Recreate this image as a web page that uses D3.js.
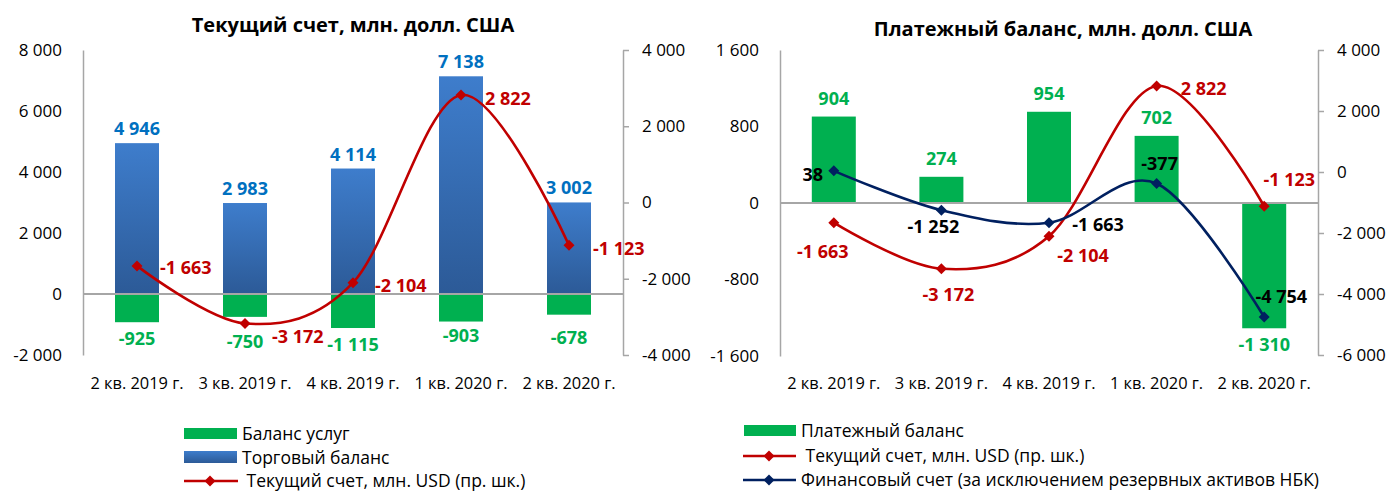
<!DOCTYPE html>
<html><head><meta charset="utf-8">
<script src="https://cdn.jsdelivr.net/npm/d3@7"></script>
<style>
body{margin:0;background:#fff;}
svg{display:block;font-family:"Open Sans",sans-serif;}
</style></head>
<body>
<svg id="chart" width="1394" height="492"></svg>
<script>
// ---------- data ----------
const quarters = ["2 кв. 2019 г.", "3 кв. 2019 г.", "4 кв. 2019 г.", "1 кв. 2020 г.", "2 кв. 2020 г."];
const tradeBalance = [4946, 2983, 4114, 7138, 3002];
const servicesBalance = [-925, -750, -1115, -903, -678];
const currentAccount = [-1663, -3172, -2104, 2822, -1123];
const balanceOfPayments = [904, 274, 954, 702, -1310];
const financialAccount = [38, -1252, -1663, -377, -4754];

const leftTicksA = [-2000, 0, 2000, 4000, 6000, 8000];
const rightTicksA = [-4000, -2000, 0, 2000, 4000];
const leftTicksB = [-1600, -800, 0, 800, 1600];
const rightTicksB = [-6000, -4000, -2000, 0, 2000, 4000];

const titleA = "Текущий счет, млн. долл. США";
const titleB = "Платежный баланс, млн. долл. США";
const legendA = ["Баланс услуг", "Торговый баланс", " Текущий счет, млн. USD (пр. шк.)"];
const legendB = ["Платежный баланс", " Текущий счет, млн. USD (пр. шк.)", "Финансовый счет (за исключением резервных активов НБК)"];

// ---------- style ----------
const C = {green:"#00B050", red:"#C00000", navy:"#002060", blue:"#0070C0", axis:"#A6A6A6", text:"#000"};
const loc = d3.formatLocale({decimal:",", thousands:" ", grouping:[3], currency:["",""], minus:"-"});
const fmt = loc.format(",");
const FS = {title:20, tick:17, cat:16.4, label:18, legend:17.5};

const svg = d3.select("#chart");
const defs = svg.append("defs");
const grad = defs.append("linearGradient").attr("id","tradeGrad").attr("x1",0).attr("y1",0).attr("x2",0).attr("y2",1);
grad.append("stop").attr("offset","0%").attr("stop-color","#3E7DCC");
grad.append("stop").attr("offset","100%").attr("stop-color","#2C5A97");

const diamond = "M0,-5.5L5.5,0L0,5.5L-5.5,0Z";
const curve = d3.curveCatmullRom.alpha(0);

function axes(g, x, yL, yR, ticksL, ticksR) {
  const [x0, x1] = x.range();
  const la = g.append("g").attr("transform", `translate(${x0},0)`)
    .call(d3.axisLeft(yL).tickValues(ticksL).tickFormat(fmt).tickSize(0).tickPadding(21));
  la.select(".domain").attr("stroke", C.axis).attr("stroke-width", 1.5);
  la.selectAll("text").attr("font-size", FS.tick).attr("fill", C.text).attr("font-family","Open Sans");
  const ra = g.append("g").attr("transform", `translate(${x1},0)`)
    .call(d3.axisRight(yR).tickValues(ticksR).tickFormat(fmt).tickSizeInner(6).tickSizeOuter(0).tickPadding(13));
  ra.select(".domain").attr("stroke", C.axis).attr("stroke-width", 1.5);
  ra.selectAll("line").attr("stroke", C.axis).attr("stroke-width", 1.5);
  ra.selectAll("text").attr("font-size", FS.tick).attr("fill", C.text).attr("font-family","Open Sans");
}

function categoryAxis(g, x, y) {
  g.append("g").selectAll("text").data(quarters).join("text")
    .attr("x", d => x(d) + x.bandwidth()/2).attr("y", y)
    .attr("text-anchor","middle").attr("dominant-baseline","central")
    .attr("font-size", FS.cat).attr("fill", C.text).text(d => d);
}

function lineSeries(g, x, y, values, color) {
  const pts = values.map((v,i) => [x(quarters[i]) + x.bandwidth()/2, y(v)]);
  g.append("path").attr("d", d3.line().curve(curve)(pts))
    .attr("fill","none").attr("stroke", color).attr("stroke-width", 2.6);
  g.append("g").selectAll("path").data(pts).join("path")
    .attr("d", diamond).attr("transform", d => `translate(${d[0]},${d[1]})`).attr("fill", color);
  return pts;
}

function labels(g, pts, values, offsets, color, anchor) {
  g.append("g").selectAll("text").data(values).join("text")
    .attr("x", (d,i) => pts[i][0] + offsets[i][0]).attr("y", (d,i) => pts[i][1] + offsets[i][1])
    .attr("text-anchor", anchor).attr("dominant-baseline","central")
    .attr("font-size", FS.label).attr("font-weight", 700).attr("fill", color).text(d => fmt(d));
}

// ================= Chart A =================
{
  const g = svg.append("g");
  const x = d3.scaleBand().domain(quarters).range([83, 623]);
  const yL = d3.scaleLinear().domain([-2000, 8000]).range([355, 50]);
  const yR = d3.scaleLinear().domain([-4000, 4000]).range([355, 50]);
  const bw = 44;
  const cx = d => x(d) + x.bandwidth()/2;

  g.append("text").attr("x", 353).attr("y", 24).attr("text-anchor","middle").attr("dominant-baseline","central")
    .attr("font-size", FS.title).attr("font-weight", 700).text(titleA);

  g.append("g").selectAll("rect").data(tradeBalance).join("rect")
    .attr("x", (d,i) => cx(quarters[i]) - bw/2).attr("width", bw)
    .attr("y", d => yL(Math.max(0,d))).attr("height", d => Math.abs(yL(d) - yL(0)))
    .attr("fill", "url(#tradeGrad)");
  g.append("g").selectAll("rect").data(servicesBalance).join("rect")
    .attr("x", (d,i) => cx(quarters[i]) - bw/2).attr("width", bw)
    .attr("y", d => yL(Math.max(0,d))).attr("height", d => Math.abs(yL(d) - yL(0)))
    .attr("fill", C.green);

  axes(g, x, yL, yR, leftTicksA, rightTicksA);
  g.append("line").attr("x1", 83).attr("x2", 623).attr("y1", yL(0)).attr("y2", yL(0))
    .attr("stroke", C.axis).attr("stroke-width", 2);

  categoryAxis(g, x, 382);

  g.append("g").selectAll("text").data(tradeBalance).join("text")
    .attr("x", (d,i) => cx(quarters[i])).attr("y", d => yL(d) - 15)
    .attr("text-anchor","middle").attr("dominant-baseline","central")
    .attr("font-size", FS.label).attr("font-weight", 700).attr("fill", C.blue).text(d => fmt(d));
  const svcOff = [16, 24, 16, 13, 22];
  g.append("g").selectAll("text").data(servicesBalance).join("text")
    .attr("x", (d,i) => cx(quarters[i])).attr("y", (d,i) => yL(d) + svcOff[i])
    .attr("text-anchor","middle").attr("dominant-baseline","central")
    .attr("font-size", FS.label).attr("font-weight", 700).attr("fill", C.green).text(d => fmt(d));

  const pts = lineSeries(g, x, yR, currentAccount, C.red);
  labels(g, pts, currentAccount, [[23,1],[27,13],[22,2],[24,3],[24,3]], C.red, "start");

  const lg = g.append("g").attr("font-size", FS.legend);
  lg.append("rect").attr("x",184).attr("y",428).attr("width",53).attr("height",11).attr("fill",C.green);
  lg.append("rect").attr("x",184).attr("y",451).attr("width",53).attr("height",12).attr("fill","url(#tradeGrad)");
  lg.append("line").attr("x1",184).attr("x2",238).attr("y1",481).attr("y2",481).attr("stroke",C.red).attr("stroke-width",2.6);
  lg.append("path").attr("d",diamond).attr("transform","translate(210,481)").attr("fill",C.red);
  lg.selectAll("text").data(legendA).join("text")
    .attr("x", 242).attr("y", (d,i) => [433,457,480][i])
    .attr("dominant-baseline","central").style("white-space","pre").text(d => d);
}

// ================= Chart B =================
{
  const g = svg.append("g");
  const x = d3.scaleBand().domain(quarters).range([780, 1318]);
  const yL = d3.scaleLinear().domain([-1600, 1600]).range([356, 50]);
  const yR = d3.scaleLinear().domain([-6000, 4000]).range([355, 50]);
  const bw = 44;
  const cx = d => x(d) + x.bandwidth()/2;

  g.append("text").attr("x", 1063).attr("y", 28).attr("text-anchor","middle").attr("dominant-baseline","central")
    .attr("font-size", FS.title).attr("font-weight", 700).text(titleB);

  g.append("g").selectAll("rect").data(balanceOfPayments).join("rect")
    .attr("x", (d,i) => cx(quarters[i]) - bw/2).attr("width", bw)
    .attr("y", d => yL(Math.max(0,d))).attr("height", d => Math.abs(yL(d) - yL(0)))
    .attr("fill", C.green);

  axes(g, x, yL, yR, leftTicksB, rightTicksB);
  g.append("line").attr("x1", 780).attr("x2", 1318).attr("y1", yL(0)).attr("y2", yL(0))
    .attr("stroke", C.axis).attr("stroke-width", 2);

  categoryAxis(g, x, 382);

  g.append("g").selectAll("text").data(balanceOfPayments).join("text")
    .attr("x", (d,i) => cx(quarters[i])).attr("y", d => d >= 0 ? yL(d) - 19 : yL(d) + 16)
    .attr("text-anchor","middle").attr("dominant-baseline","central")
    .attr("font-size", FS.label).attr("font-weight", 700).attr("fill", C.green).text(d => fmt(d));

  const ptsR = lineSeries(g, x, yR, currentAccount, C.red);
  const ptsN = lineSeries(g, x, yR, financialAccount, C.navy);
  labels(g, ptsR, currentAccount, [[-11,28],[7,25],[34,19],[47,2],[25,-27]], C.red, "middle");
  labels(g, ptsN, financialAccount, [[-21,3],[-8,16],[49,1],[3,-20],[17,-21]], "#000", "middle");

  const lg = g.append("g").attr("font-size", FS.legend);
  lg.append("rect").attr("x",744).attr("y",425).attr("width",52).attr("height",11).attr("fill",C.green);
  lg.append("line").attr("x1",743).attr("x2",796).attr("y1",456).attr("y2",456).attr("stroke",C.red).attr("stroke-width",2.6);
  lg.append("path").attr("d",diamond).attr("transform","translate(769,456)").attr("fill",C.red);
  lg.append("line").attr("x1",743).attr("x2",796).attr("y1",480).attr("y2",480).attr("stroke",C.navy).attr("stroke-width",2.6);
  lg.append("path").attr("d",diamond).attr("transform","translate(769,480)").attr("fill",C.navy);
  lg.selectAll("text").data(legendB).join("text")
    .attr("x", 801).attr("y", (d,i) => [430,455,479][i])
    .attr("dominant-baseline","central").style("white-space","pre").text(d => d);
}
</script>
</body></html>
